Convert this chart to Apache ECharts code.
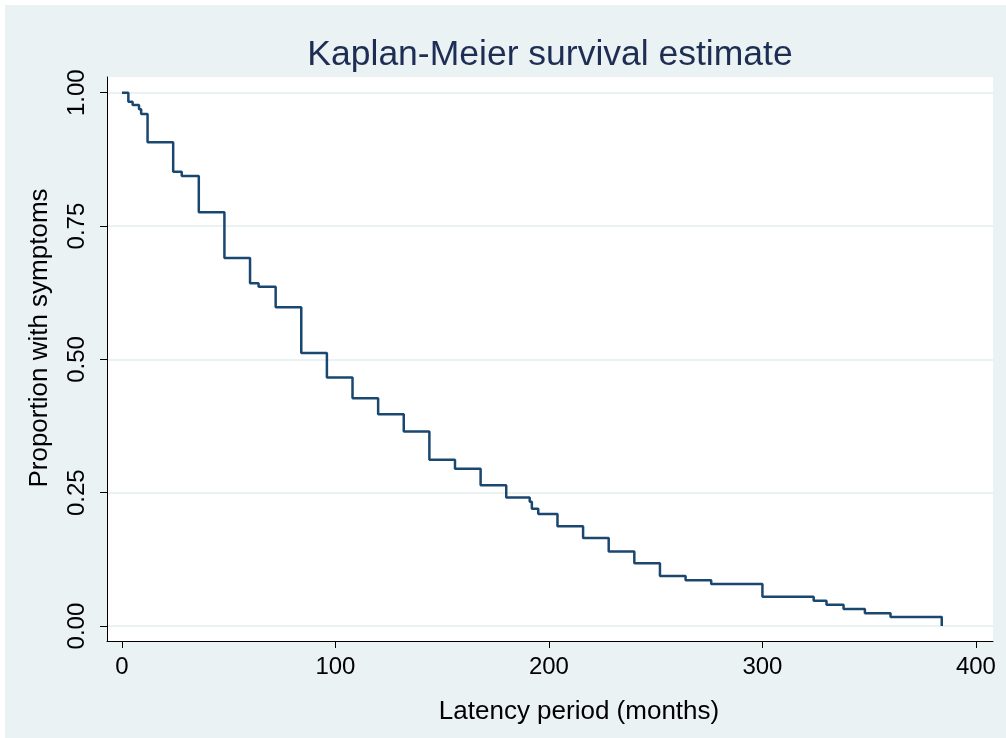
<!DOCTYPE html>
<html>
<head>
<meta charset="utf-8">
<script src="https://cdn.jsdelivr.net/npm/echarts@6/dist/echarts.min.js"></script>
<style>
  html, body { margin: 0; padding: 0; background: #ffffff; }
  #chart { position: absolute; left: 5px; top: 5px; width: 1001px; height: 733px; }
</style>
</head>
<body>
<div id="chart"></div>
<script>
// Kaplan-Meier estimate: event times (months) and survival after each time
const times = [0, 3, 5, 8, 9, 12, 24, 28, 36, 48, 60, 64, 72, 84, 96, 108, 120, 132, 144, 156,
  168, 180, 191, 192, 195, 204, 216, 228, 240, 252, 264, 276, 300, 324, 330, 338, 348, 360, 384];
const survival = [1.000, 0.983, 0.977, 0.969, 0.960, 0.907, 0.852, 0.844, 0.776, 0.690, 0.643,
  0.636, 0.598, 0.512, 0.466, 0.427, 0.397, 0.365, 0.312, 0.295, 0.264, 0.241, 0.233, 0.220,
  0.210, 0.187, 0.165, 0.140, 0.118, 0.094, 0.086, 0.079, 0.055, 0.0475, 0.040, 0.032, 0.024,
  0.017, 0.000];

// axis tick values
const xTicks = [0, 100, 200, 300, 400];
const yTicks = [0, 0.25, 0.5, 0.75, 1];

const FONT = "'Liberation Sans', Arial, sans-serif";
const chart = echarts.init(document.getElementById('chart'), null, { renderer: 'canvas' });

chart.setOption({
  animation: false,
  backgroundColor: '#EAF2F3',
  graphic: [{
    type: 'text',
    x: 545,
    y: 50,
    style: {
      text: 'Kaplan-Meier survival estimate',
      font: '35.5px ' + FONT,
      fill: '#1E2D53',
      textAlign: 'center',
      textVerticalAlign: 'middle'
    }
  }, {
    // x-axis title
    type: 'text',
    x: 574,
    y: 707,
    style: {
      text: 'Latency period (months)',
      font: '26px ' + FONT,
      fill: '#000',
      textAlign: 'center',
      textVerticalAlign: 'middle'
    }
  }, {
    // y-axis title
    type: 'text',
    x: 35,
    y: 333,
    rotation: Math.PI / 2,
    style: {
      text: 'Proportion with symptoms',
      font: '26px ' + FONT,
      fill: '#000',
      textAlign: 'center',
      textVerticalAlign: 'middle'
    }
  }],
  grid: {
    left: 102, right: 13, top: 72, bottom: 97,
    show: true, backgroundColor: '#ffffff', borderWidth: 0
  },
  xAxis: {
    type: 'value',
    min: -7, max: 408,
    axisLine: { show: true, onZero: false, lineStyle: { color: '#000', width: 1 } },
    axisTick: { show: true, length: 7, customValues: xTicks, lineStyle: { color: '#000' } },
    axisLabel: { customValues: xTicks, fontSize: 24, color: '#000', fontFamily: FONT, margin: 14 },
    splitLine: { show: false }
  },
  yAxis: {
    type: 'value',
    min: -0.028, max: 1.0295,
    axisLine: { show: true, onZero: false, lineStyle: { color: '#000', width: 1 } },
    axisTick: { show: true, length: 7, customValues: yTicks, lineStyle: { color: '#000' } },
    axisLabel: {
      customValues: yTicks, rotate: 90, fontSize: 24, color: '#000', fontFamily: FONT, margin: 18,
      formatter: v => v.toFixed(2)
    },
    splitLine: { show: true, lineStyle: { color: '#EAF2F3', width: 2 } }
  },
  series: [{
    type: 'line',
    step: 'end',
    showSymbol: false,
    symbol: 'none',
    data: times.map((t, i) => [t, survival[i]]),
    lineStyle: { color: '#1A476F', width: 2.5 },
    z: 3
  }]
});
</script>
</body>
</html>
